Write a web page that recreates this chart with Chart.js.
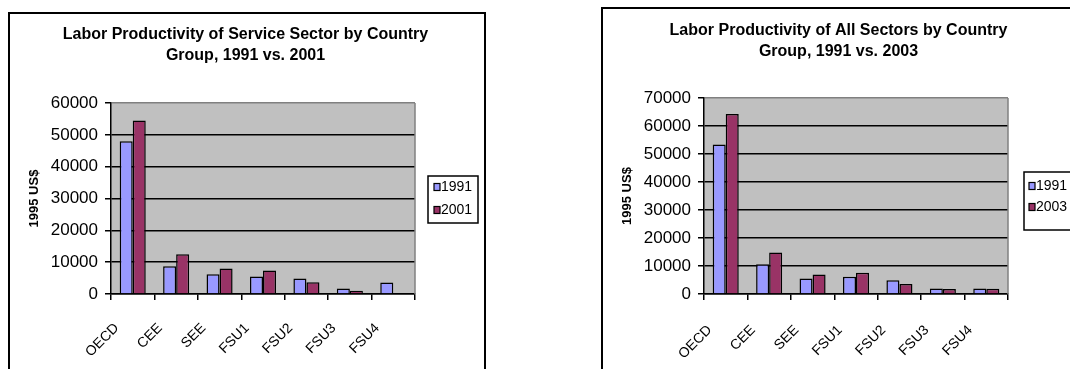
<!DOCTYPE html>
<html>
<head>
<meta charset="utf-8">
<script src="https://cdn.jsdelivr.net/npm/chart.js@4/dist/chart.umd.min.js"></script>
<style>
  html, body { margin: 0; padding: 0; background: #fff; }
  body { width: 1070px; height: 369px; overflow: hidden; position: relative; }
  .frame { position: absolute; border: 2px solid #000; width: 474px; height: 378px; }
  #frameService { left: 8px; top: 12px; }
  #frameAll { left: 601px; top: 7px; }
  canvas { display: block; }
</style>
</head>
<body>
<div class="frame" id="frameService"><canvas id="chartService" width="474" height="378"></canvas></div>
<div class="frame" id="frameAll"><canvas id="chartAll" width="474" height="378"></canvas></div>
<script>
// Country groups on the category axis
const categories = ['OECD', 'CEE', 'SEE', 'FSU1', 'FSU2', 'FSU3', 'FSU4'];

// Service sector, 1995 US$ per worker
const serviceYears = ['1991', '2001'];
const service1991 = [48000, 8700, 6200, 5500, 4900, 1700, 3600];
const service2001 = [54500, 12500, 8000, 7400, 3700, 1000, null];

// All sectors, 1995 US$ per worker
const allYears = ['1991', '2003'];
const all1991 = [53400, 10600, 5500, 6200, 4900, 2000, 2000];
const all2003 = [64300, 14800, 7000, 7600, 3600, 1800, 1900];

// Value axis ranges
const serviceMax = 60000;
const allMax = 70000;
const valueStep = 10000;
const valueAxisTitle = '1995 US$';

const serviceTitle = ['Labor Productivity of Service Sector by Country', 'Group, 1991 vs. 2001'];
const allTitle = ['Labor Productivity of All Sectors by Country', 'Group, 1991 vs. 2003'];

const FONT = '"Liberation Sans", Arial, sans-serif';
Chart.defaults.font.family = FONT;
Chart.defaults.color = '#000';

const COLOR_EARLY = '#9999FF';
const COLOR_LATE = '#993366';

// Silver plot area with a grey frame on the right
const plotBackground = {
  id: 'plotBackground',
  beforeDraw(chart) {
    const { ctx, chartArea: a } = chart;
    ctx.save();
    ctx.fillStyle = '#C0C0C0';
    ctx.fillRect(a.left, a.top, a.right - a.left, a.bottom - a.top);
    ctx.restore();
  },
  beforeDatasetsDraw(chart) {
    const { ctx, chartArea: a } = chart;
    ctx.save();
    ctx.strokeStyle = '#808080';
    ctx.lineWidth = 1.5;
    ctx.beginPath();
    ctx.moveTo(a.right, a.top);
    ctx.lineTo(a.right, a.bottom);
    ctx.stroke();
    ctx.restore();
  }
};

// Framed legend to the right of the plot, built from the datasets
const boxedLegend = {
  id: 'boxedLegend',
  afterDraw(chart, args, o) {
    const { ctx, chartArea: a } = chart;
    const x = a.right + o.gap;
    ctx.save();
    ctx.lineWidth = 1.5;
    ctx.strokeStyle = '#000';
    ctx.strokeRect(x, o.top, o.width, o.height);
    ctx.font = o.fontSize + 'px ' + FONT;
    ctx.textBaseline = 'middle';
    chart.data.datasets.forEach((ds, i) => {
      const cy = o.firstRow + i * o.rowGap;
      ctx.fillStyle = ds.backgroundColor;
      ctx.fillRect(x + o.markerX, cy - 3.5, 6, 7);
      ctx.lineWidth = 1.2;
      ctx.strokeRect(x + o.markerX, cy - 3.5, 6, 7);
      ctx.fillStyle = '#000';
      ctx.fillText(ds.label, x + o.textX, cy);
    });
    ctx.restore();
  }
};

function makeChart(id, title, years, early, late, max, geo) {
  return new Chart(document.getElementById(id), {
    type: 'bar',
    data: {
      labels: categories,
      datasets: [
        { label: years[0], data: early, backgroundColor: COLOR_EARLY, borderColor: '#000', borderWidth: 1.5 },
        { label: years[1], data: late, backgroundColor: COLOR_LATE, borderColor: '#000', borderWidth: 1.5 }
      ]
    },
    options: {
      responsive: false,
      animation: false,
      devicePixelRatio: 1,
      layout: { padding: { left: 0, right: 3, top: 0, bottom: 0 } },
      datasets: { bar: { categoryPercentage: 0.6, barPercentage: 1.0 } },
      plugins: {
        legend: { display: false },
        tooltip: { enabled: false },
        title: {
          display: true,
          text: title,
          color: '#000',
          font: { size: 16, weight: 'bold', lineHeight: '21px' },
          padding: { top: geo.titleTop, bottom: geo.titleBottom }
        },
        boxedLegend: geo.legend
      },
      scales: {
        x: {
          grid: { drawOnChartArea: false, offset: true, tickLength: 6, color: '#000', lineWidth: 1.5 },
          border: { color: '#000', width: 1.5 },
          ticks: {
            minRotation: 45, maxRotation: 45, autoSkip: false,
            labelOffset: -16, padding: geo.labelPad,
            font: { size: 14 }
          },
          afterFit(s) { s.height = geo.xHeight; }
        },
        y: {
          min: 0, max: max,
          ticks: { stepSize: valueStep, padding: 7, font: { size: 17 }, callback: v => String(v) },
          grid: {
            color: c => (c.tick && c.tick.value === max ? '#808080' : '#000'),
            tickColor: '#000', tickLength: 6, lineWidth: 1.5
          },
          border: { color: '#000', width: 1.5 },
          title: {
            display: true, text: valueAxisTitle, color: '#000',
            font: { size: 13, weight: 'bold' },
            padding: { top: 17, bottom: 0 }
          },
          afterFit(s) { s.width = 101; }
        },
        side: {
          type: 'linear', position: 'right', display: true,
          grid: { display: false }, border: { display: false }, ticks: { display: false },
          afterFit(s) { s.width = 66; }
        }
      }
    },
    plugins: [plotBackground, boxedLegend]
  });
}

makeChart('chartService', serviceTitle, serviceYears, service1991, service2001, serviceMax, {
  titleTop: 10, titleBottom: 37, xHeight: 98, labelPad: 20,
  legend: { gap: 13, top: 162, width: 50, height: 47, firstRow: 173, rowGap: 23, markerX: 6, textX: 13, fontSize: 14 }
});

makeChart('chartAll', allTitle, allYears, all1991, all2003, allMax, {
  titleTop: 11, titleBottom: 36, xHeight: 93, labelPad: 22,
  legend: { gap: 16, top: 163, width: 60, height: 58, firstRow: 177, rowGap: 21, markerX: 5, textX: 12, fontSize: 14 }
});
</script>
</body>
</html>
